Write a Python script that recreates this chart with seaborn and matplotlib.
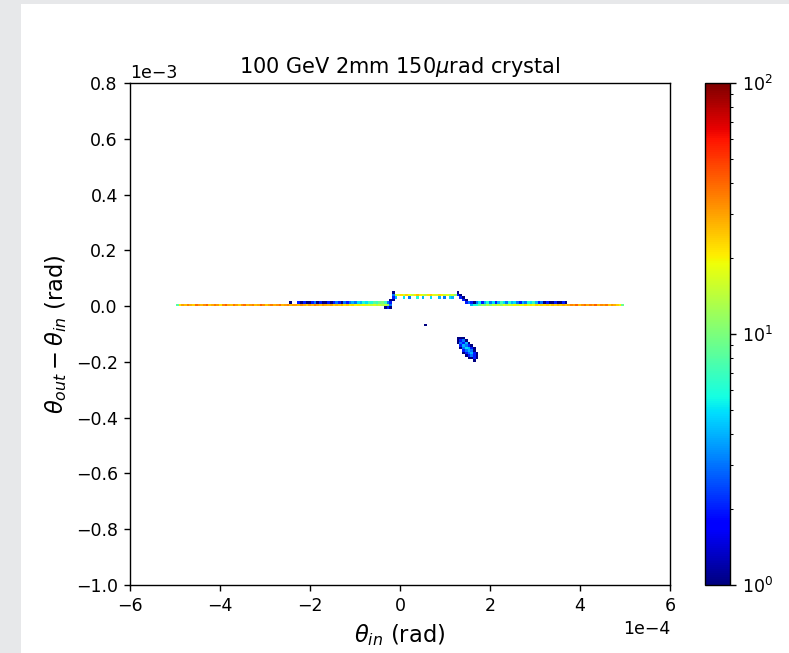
import numpy as np
import pandas as pd
import matplotlib
matplotlib.use("Agg")
import matplotlib.pyplot as plt
import seaborn as sns
from matplotlib.colors import LogNorm

# theta_in in units of 1e-4 rad, deflection in units of 1e-3 rad
BIN_X = 0.06   # 200 bins over [-6, 6]
BIN_Y = 0.009  # 200 bins over [-1.0, 0.8]

# non-interacting beam, y = 0 row, left of the crystal acceptance
outer_left_x0 = -4.95
outer_left_counts = [8, 22, 30, 26, 35, 28, 24, 38, 30, 27, 33, 40, 25, 29, 36, 31, 22, 34,
                     42, 28, 26, 37, 30, 24, 33, 39, 27, 31, 35, 26, 29, 41, 33, 25, 30, 36,
                     28, 32, 38, 27, 30, 34, 26, 31]

# left volume-reflection side, two rows
left_low_x0 = -2.31
left_low_counts = [30, 26, 33, 28, 24, 31, 27, 35, 29, 25, 32, 28, 26, 30, 23, 27, 24, 28,
                   22, 25, 20, 23, 19, 21, 17, 20, 16, 18, 15, 17, 14, 16, 13, 15, 12]
left_high_x0 = -2.25
left_high_counts = [2, 1, 2, 1, 1, 2, 3, 1, 2, 1, 1, 2, 1, 2, 3, 2, 1, 3, 2, 3, 4, 3, 5, 4,
                    6, 5, 7, 6, 8, 7, 9, 10, 7, 3]

# channeling band
chan_x0 = -0.15
chan_counts = [3, 14, 18, 22, 16, 24, 19, 15, 21, 26, 20, 17, 14, 22, 25, 18, 16, 23, 20,
               15, 18, 13, 16, 11, 2]
chan_low_x0 = -0.09
chan_low_counts = [4, 0, 0, 5, 0, 3, 0, 0, 6, 0, 4, 0, 0, 5, 0, 0, 4, 0, 3, 0, 5, 4, 0]

# right volume-reflection side, two rows
right_low_x0 = 1.71
right_low_counts = [6, 9, 12, 10, 14, 11, 15, 13, 16, 12, 18, 14, 17, 15, 20, 16, 19, 17,
                    22, 18, 21, 19, 23, 20, 24, 22, 25, 21, 26, 23, 27, 24, 28, 25]
right_high_x0 = 1.71
right_high_counts = [3, 5, 2, 4, 6, 3, 5, 2, 4, 7, 5, 3, 6, 4, 5, 3, 2, 4, 3, 6, 5, 7, 4,
                     2, 3, 1, 2, 1, 1, 2, 1, 1, 2, 1]

# non-interacting beam, right
outer_right_x0 = 3.75
outer_right_counts = [28, 35, 30, 40, 26, 33, 38, 29, 36, 31, 42, 27, 34, 30, 37, 25, 32,
                      28, 24, 20, 9]

# isolated cells: step into channeling, dechanneling slope, stray points
single_x = [-2.43, -0.33, -0.27, -0.21, -0.21, -0.21, -0.21, -0.15, -0.15, -0.15,
            1.29, 1.35, 1.35, 1.41, 1.41, 1.47, 1.47, 1.53, 1.59, 1.59, 1.65, 1.65, 0.57]
single_y = [0.0085, -0.0095, -0.0095, -0.0095, -0.0005, 0.0085, 0.0175, 0.0175, 0.0265,
            0.0445, 0.0445, 0.0265, 0.0355, 0.0175, 0.0265, 0.0175, 0.0085, 0.0085,
            0.0085, -0.0005, -0.0005, 0.0085, -0.0685]
single_w = [1, 1, 2, 1, 3, 2, 1, 1, 2, 1, 1, 2, 1, 2, 1, 1, 2, 3, 2, 4, 6, 1, 1]

# volume-reflected / dechanneled cluster below the beam
cluster_x0 = 1.29
cluster_y_top = -0.1135
cluster_counts = [
    [1, 1, 1, 0, 0, 0, 0, 0],
    [1, 2, 3, 1, 0, 0, 0, 0],
    [1, 3, 2, 4, 1, 0, 0, 0],
    [0, 2, 4, 3, 2, 1, 0, 0],
    [0, 1, 3, 5, 4, 2, 1, 0],
    [0, 0, 2, 3, 4, 3, 1, 0],
    [0, 0, 1, 2, 3, 4, 2, 1],
    [0, 0, 0, 1, 2, 3, 2, 1],
    [0, 0, 0, 0, 1, 1, 2, 1],
    [0, 0, 0, 0, 0, 0, 1, 0],
]

rows = []


def add_row(x0, y, counts):
    for i, c in enumerate(counts):
        if c > 0:
            rows.append((x0 + BIN_X * i, y, c))


add_row(outer_left_x0, -0.0005, outer_left_counts)
add_row(left_low_x0, -0.0005, left_low_counts)
add_row(left_high_x0, 0.0085, left_high_counts)
add_row(chan_x0, 0.0355, chan_counts)
add_row(chan_low_x0, 0.0265, chan_low_counts)
add_row(right_low_x0, -0.0005, right_low_counts)
add_row(right_high_x0, 0.0085, right_high_counts)
add_row(outer_right_x0, -0.0005, outer_right_counts)
for xs, ys, ws in zip(single_x, single_y, single_w):
    rows.append((xs, ys, ws))
for j, line in enumerate(cluster_counts):
    add_row(cluster_x0, cluster_y_top - BIN_Y * j, line)

df = pd.DataFrame(rows, columns=["tx", "ty", "w"])
df["theta_in"] = df.tx * 1e-4
df["dtheta"] = df.ty * 1e-3

fig = plt.figure(figsize=(789 / 125, 653 / 125), dpi=125)
fig.patch.set_facecolor("#e7e8ea")
fig.patches.append(plt.Rectangle((21 / 789, 0), 1 - 21 / 789, 1 - 4 / 653,
                                 transform=fig.transFigure, facecolor="white",
                                 edgecolor="none", zorder=-10))
ax = fig.add_axes([130 / 789, 1 - 585 / 653, 540 / 789, 502 / 653])
cax = fig.add_axes([705 / 789, 1 - 585 / 653, 25 / 789, 502 / 653])

sns.histplot(data=df, x="theta_in", y="dtheta", weights="w",
             bins=(200, 200), binrange=((-6e-4, 6e-4), (-1e-3, 0.8e-3)),
             cmap=matplotlib.colormaps["jet"], norm=LogNorm(1, 100),
             vmin=None, vmax=None, cbar=True, cbar_ax=cax, ax=ax)

ax.set_xlim(-6e-4, 6e-4)
ax.set_ylim(-1e-3, 0.8e-3)
ax.ticklabel_format(style="sci", axis="both", scilimits=(0, 0))
ax.set_title(r"100 GeV 2mm 150$\mu$rad crystal")
ax.set_xlabel(r"$\theta_{in}$ (rad)", fontsize=13)
ax.set_ylabel(r"$\theta_{out} - \theta_{in}$ (rad)", fontsize=13)

fig.savefig("out.png", dpi=125, facecolor=fig.get_facecolor())
